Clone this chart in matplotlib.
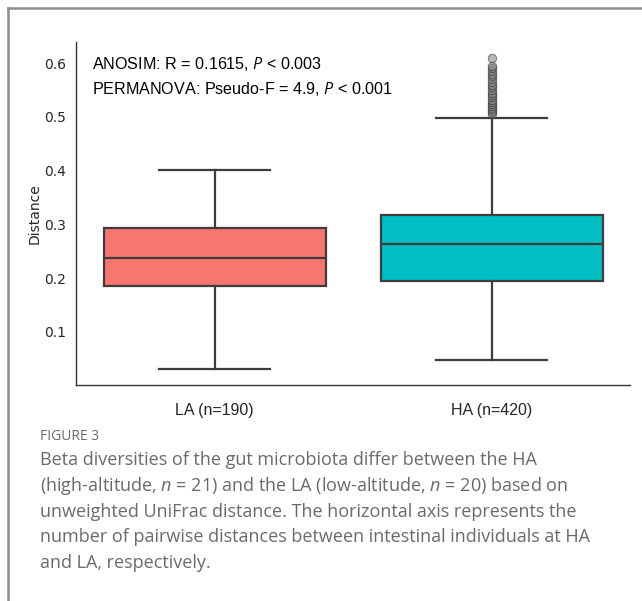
import matplotlib.pyplot as plt
from matplotlib.lines import Line2D

groups = ['LA (n=190)', 'HA (n=420)']
colors = ['#F8766D', '#00BFC4']
whis_low = [0.031, 0.048]
q1 = [0.185, 0.194]
median = [0.237, 0.264]
q3 = [0.293, 0.318]
whis_high = [0.401, 0.497]
outliers_la = []
outliers_ha = [0.505, 0.509, 0.512, 0.516, 0.52, 0.524, 0.528, 0.532, 0.536, 0.54,
               0.545, 0.55, 0.555, 0.56, 0.565, 0.57, 0.575, 0.58, 0.585, 0.59,
               0.595, 0.61]

caption_lines = [
    'Beta diversities of the gut microbiota differ between the HA',
    '(high-altitude, $n$ = 21) and the LA (low-altitude, $n$ = 20) based on',
    'unweighted UniFrac distance. The horizontal axis represents the',
    'number of pairwise distances between intestinal individuals at HA',
    'and LA, respectively.',
]

plt.rcParams['mathtext.fontset'] = 'custom'
plt.rcParams['mathtext.rm'] = 'Open Sans'
plt.rcParams['mathtext.it'] = 'Open Sans:italic'

fig = plt.figure(figsize=(6.42, 6.01), dpi=100)
ax = fig.add_axes([0.1184, 0.3594, 0.8636, 0.5706])

stats = []
for i in range(len(groups)):
    stats.append({
        'whislo': whis_low[i], 'q1': q1[i], 'med': median[i],
        'q3': q3[i], 'whishi': whis_high[i],
        'fliers': [outliers_la, outliers_ha][i],
    })

line_c = '#3d3d3d'
bp = ax.bxp(stats, positions=[0, 1], widths=0.8, patch_artist=True,
            boxprops=dict(edgecolor=line_c, linewidth=1.6),
            medianprops=dict(color=line_c, linewidth=1.6),
            whiskerprops=dict(color=line_c, linewidth=1.6),
            capprops=dict(color=line_c, linewidth=1.6),
            flierprops=dict(marker='o', markerfacecolor='#808080',
                            markeredgecolor='#333333', markersize=6,
                            alpha=0.55, markeredgewidth=0.8))
for patch, c in zip(bp['boxes'], colors):
    patch.set_facecolor(c)

ax.set_xlim(-0.5, 1.5)
ax.set_ylim(0.001, 0.639)
ax.set_yticks([0.1, 0.2, 0.3, 0.4, 0.5, 0.6])
ax.set_yticklabels(['0.1', '0.2', '0.3', '0.4', '0.5', '0.6'])
ax.set_xticks([0, 1])
ax.set_xticklabels(groups, family='Liberation Sans', fontsize=11.5)
ax.tick_params(axis='both', length=0, labelcolor='#262626')
ax.tick_params(axis='y', labelsize=10, pad=7)
ax.tick_params(axis='x', pad=13)
ax.set_ylabel('Distance', fontsize=10, labelpad=2, color='#262626')
for s in ['top', 'right']:
    ax.spines[s].set_visible(False)
for s in ['left', 'bottom']:
    ax.spines[s].set_color('#333333')
    ax.spines[s].set_linewidth(1.0)

ax.text(0.028, 0.935, 'ANOSIM: R = 0.1615, $\\mathit{P}$ < 0.003',
        transform=ax.transAxes, family='Liberation Sans', fontsize=11.6,
        va='center', ha='left')
ax.text(0.028, 0.862, 'PERMANOVA: Pseudo-F = 4.9, $\\mathit{P}$ < 0.001',
        transform=ax.transAxes, family='Liberation Sans', fontsize=11.6,
        va='center', ha='left')

# frame around the figure panel
fig.add_artist(Line2D([8 / 642, 1], [1 - 8 / 601, 1 - 8 / 601],
                      color='#8c8c8c', linewidth=1.8))
fig.add_artist(Line2D([8 / 642, 8 / 642], [0, 1 - 8 / 601],
                      color='#8c8c8c', linewidth=1.8))

fig.text(40 / 642, 1 - 437 / 601, 'FIGURE 3', family='Open Sans',
         fontsize=10, color='#6a6a6a', va='center', ha='left')
for k, line in enumerate(caption_lines):
    fig.text(40 / 642, 1 - (460 + 25.8 * k) / 601, line, family='Open Sans',
             fontsize=13.0, color='#6a6a6a', va='center', ha='left')

fig.savefig('out.png', dpi=100)
